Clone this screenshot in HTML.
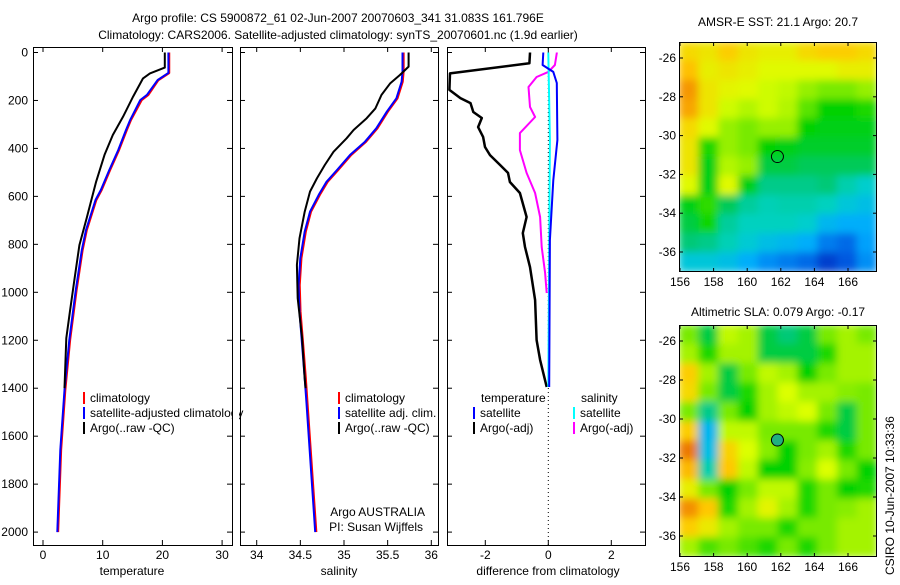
<!DOCTYPE html>
<html><head><meta charset="utf-8"><style>
body{margin:0;background:#fff;}
svg text{font-family:"Liberation Sans",sans-serif;font-size:12px;fill:#000;}
</style></head><body>
<svg id="s" width="900" height="580" viewBox="0 0 900 580">
<defs>
<filter id="bl" x="0" y="0" width="100%" height="100%"><feGaussianBlur stdDeviation="4" edgeMode="duplicate"/></filter>
<clipPath id="c1"><rect x="679" y="42" width="198" height="230"/></clipPath>
<clipPath id="c2"><rect x="679" y="325" width="198" height="232"/></clipPath>
</defs>
<text x="338" y="22" text-anchor="middle">Argo profile: CS 5900872_61 02-Jun-2007 20070603_341 31.083S 161.796E</text>
<text x="338" y="39" text-anchor="middle">Climatology: CARS2006. Satellite-adjusted climatology: synTS_20070601.nc (1.9d earlier)</text>
<text x="778" y="26" text-anchor="middle">AMSR-E SST: 21.1 Argo: 20.7</text>
<text x="778" y="316" text-anchor="middle">Altimetric SLA: 0.079 Argo: -0.17</text>
<text x="0" y="0" transform="translate(894,575) rotate(-90)">CSIRO 10-Jun-2007 10:33:36</text>
<g id="g"></g>
</svg>
<script>
// ---- data ----
const depthTicks=[0,200,400,600,800,1000,1200,1400,1600,1800,2000];
const tempTicks=[0,10,20,30];
const salTicks=[34,34.5,35,35.5,36];
const salTickLabels=["34","34.5","35","35.5","36"];
const diffTicks=[-2,0,2];
const climTDepth=[0,85,115,177,198,281,323,407,490,573,615,740,824,990,1199,1407,1658,2000];
const climTemp=[21.1,21.1,19.3,17.6,16.5,14.7,14.0,12.7,11.2,9.8,8.9,7.3,6.6,5.6,4.5,3.7,3.0,2.5];
const satTemp=[21.0,21.0,19.2,17.4,16.3,14.6,13.9,12.6,11.1,9.7,8.8,7.2,6.5,5.5,4.4,3.6,2.9,2.4];
const argoTDepth=[0,63,87,108,184,268,344,427,539,692,803,942,1081,1191,1400];
const argoTemp=[20.4,20.4,17.9,16.75,15.1,13.4,11.7,10.3,8.9,7.3,6.1,5.3,4.5,3.9,3.6];
const climSDepth=[0,10,80,122,191,247,316,372,427,490,539,594,664,747,858,970,1081,1220,1359,1463,2000];
const climSal=[35.68,35.68,35.68,35.67,35.61,35.50,35.38,35.25,35.08,34.93,34.81,34.72,34.62,34.56,34.51,34.49,34.50,34.53,34.56,34.58,34.68];
const satSal=[35.67,35.67,35.67,35.66,35.60,35.49,35.37,35.24,35.07,34.92,34.80,34.71,34.61,34.55,34.50,34.48,34.49,34.52,34.55,34.57,34.67];
const argoSDepth=[0,59,94,128,177,233,274,323,358,414,469,525,580,664,775,886,1025,1192,1359,1400];
const argoSal=[35.74,35.74,35.64,35.53,35.43,35.36,35.26,35.11,35.03,34.88,34.78,34.69,34.61,34.55,34.49,34.46,34.47,34.52,34.55,34.56];
const dTADepth=[0,2,45,87,156,190,211,248,273,311,352,394,428,469,502,540,586,686,753,811,895,1032,1199,1282,1395];
const dTempArgo=[-0.58,-0.58,-0.60,-3.12,-3.14,-2.79,-2.47,-2.38,-2.11,-2.23,-2.07,-2.01,-1.85,-1.53,-1.28,-1.22,-0.90,-0.69,-0.81,-0.74,-0.58,-0.42,-0.37,-0.26,-0.05];
const dSADepth=[0,2,52,81,102,144,227,269,336,407,502,586,686,811,919,1003];
const dSalArgo=[0.27,0.27,0.21,0,-0.37,-0.63,-0.58,-0.42,-0.90,-0.90,-0.69,-0.42,-0.26,-0.21,-0.10,-0.05];
const dTSDepth=[0,52,81,127,365,532,782,1395];
const dTempSat=[-0.16,-0.18,0.16,0.27,0.29,0.16,0.05,0.03];
const dSSDepth=[0,365,1395];
const dSalSat=[0,0.05,0];
const lonTicks=[156,158,160,162,164,166];
const latTicks=[-26,-28,-30,-32,-34,-36];
const sstGrid=[
[.72,.70,.74,.70,.68,.68,.72,.74,.74,.72],
[.76,.68,.70,.68,.66,.66,.66,.66,.68,.68],
[.82,.70,.67,.66,.64,.63,.60,.58,.58,.60],
[.80,.70,.64,.62,.64,.62,.56,.50,.50,.52],
[.72,.66,.60,.58,.60,.60,.50,.49,.49,.49],
[.70,.52,.60,.58,.50,.49,.48,.48,.48,.48],
[.70,.49,.62,.60,.47,.47,.46,.46,.46,.46],
[.66,.49,.66,.49,.42,.42,.42,.44,.38,.34],
[.49,.53,.46,.40,.37,.38,.38,.36,.32,.30],
[.47,.51,.40,.36,.36,.36,.34,.28,.26,.26],
[.44,.42,.37,.33,.30,.28,.26,.20,.18,.24],
[.32,.32,.30,.26,.22,.20,.18,.12,.16,.22]];
const slaGrid=[
[.58,.47,.63,.61,.47,.44,.47,.58,.61,.58],
[.61,.52,.61,.61,.47,.47,.47,.52,.61,.61],
[.74,.61,.47,.58,.63,.61,.50,.58,.61,.61],
[.72,.58,.47,.52,.61,.65,.61,.61,.59,.58],
[.58,.42,.58,.50,.61,.63,.65,.58,.47,.58],
[.74,.28,.63,.63,.58,.58,.58,.52,.47,.58],
[.86,.30,.73,.65,.59,.50,.58,.61,.52,.58],
[.77,.38,.75,.63,.50,.50,.59,.65,.58,.50],
[.68,.58,.50,.58,.63,.63,.52,.58,.50,.52],
[.83,.75,.52,.61,.67,.61,.52,.58,.59,.61],
[.74,.69,.61,.58,.58,.52,.58,.58,.61,.61],
[.61,.55,.58,.55,.52,.58,.52,.58,.61,.61]];
const argoLon=161.8, argoLat=-31.08;
// ---- drawing ----
const NS='http://www.w3.org/2000/svg';const G=document.getElementById('g');
function mk(t,a,p){const e=document.createElementNS(NS,t);for(const k in a)e.setAttribute(k,a[k]);(p||G).appendChild(e);return e;}
const yD=d=>52.5+d*0.2398;
const xT=v=>43+v*5.97, xS=v=>256.7+(v-34)*87.3, xDf=v=>548.3+v*31.5;
function line(xs,ds,fx,col,name,w){const pts=xs.map((v,i)=>fx(v).toFixed(1)+','+yD(ds[i]).toFixed(1)).join(' ');
 const e=mk('polyline',{points:pts,fill:'none',stroke:col,'stroke-width':w||2,'stroke-linejoin':'round'});
 
 }
function frame(x,y,w,h,name){const e=mk('rect',{x:x,y:y,width:w,height:h,fill:'none',stroke:'#000','stroke-width':1});
 
 }
function txt(x,y,s,anc,name){const e=mk('text',{x:x,y:y,'text-anchor':anc||'start'});e.textContent=s;
 
 return e;}
function xticks(ticks,labels,fx,top,bot,name){ticks.forEach((t,i)=>{const x=fx(t);
 mk('line',{x1:x,x2:x,y1:bot,y2:bot-5,stroke:'#000'});mk('line',{x1:x,x2:x,y1:top,y2:top+5,stroke:'#000'});
 txt(x,bot+14,labels[i],'middle',name);});}
const panels=[[33,232],[240,438],[447,645]];
panels.forEach((p,i)=>{frame(p[0]+0.5,47.5,p[1]-p[0],498,'profile-panel-'+(i+1));
 depthTicks.forEach(d=>{const y=yD(d);mk('line',{x1:p[0],x2:p[0]+5,y1:y,y2:y,stroke:'#000'});mk('line',{x1:p[1],x2:p[1]-5,y1:y,y2:y,stroke:'#000'});});});
depthTicks.forEach(d=>txt(28,yD(d)+4,String(d),'end','depth-tick-label'));
xticks(tempTicks,tempTicks.map(String),xT,47,545,'temperature-tick-label');
xticks(salTicks,salTickLabels,xS,47,545,'salinity-tick-label');
xticks(diffTicks,diffTicks.map(String),xDf,47,545,'diff-tick-label');
txt(132,575,'temperature','middle','x-axis-title-temperature');
txt(339,575,'salinity','middle','x-axis-title-salinity');
txt(548,575,'difference from climatology','middle','x-axis-title-difference');
line(climTemp,climTDepth,xT,'#f00','temp-climatology-line',2.5);
line(satTemp,climTDepth,xT,'#00f','temp-satellite-line');
line(argoTemp,argoTDepth,xT,'#000','temp-argo-line');
line(climSal,climSDepth,xS,'#f00','sal-climatology-line',2.5);
line(satSal,climSDepth,xS,'#00f','sal-satellite-line');
line(argoSal,argoSDepth,xS,'#000','sal-argo-line');
const dz=mk('line',{x1:548.3,x2:548.3,y1:48,y2:545,stroke:'#000','stroke-dasharray':'1,3'});


line(dTempArgo,dTADepth,xDf,'#000','diff-temp-argo-line',2.5);
line(dSalArgo,dSADepth,xDf,'#f0f','diff-sal-argo-line');
line(dSalSat,dSSDepth,xDf,'#0ff','diff-sal-satellite-line');
line(dTempSat,dTSDepth,xDf,'#00f','diff-temp-satellite-line');
function leg(x,y,col,label,name){const e=mk('rect',{x:x,y:y-10,width:2,height:12,fill:col});
 
 
 txt(x+7,y,label,'start',name);}
leg(83,402,'#f00','climatology','legend-climatology');
leg(83,417,'#00f','satellite-adjusted climatology','legend-satellite-adjusted');
leg(83,432,'#000','Argo(..raw -QC)','legend-argo');
leg(338,402,'#f00','climatology','legend2-climatology');
leg(338,417,'#00f','satellite adj. clim.','legend2-satellite');
leg(338,432,'#000','Argo(..raw -QC)','legend2-argo');
mk('rect',{x:233,y:390,width:6,height:50,fill:'#fff'});
txt(481,402,'temperature','start','legend3-temperature-heading');
txt(581,402,'salinity','start','legend3-salinity-heading');
leg(473,417,'#00f','satellite','legend3-temp-satellite');
leg(473,432,'#000','Argo(-adj)','legend3-temp-argo');
leg(573,417,'#0ff','satellite','legend3-sal-satellite');
leg(573,432,'#f0f','Argo(-adj)','legend3-sal-argo');
txt(425,516,'Argo AUSTRALIA','end','agency-label');
txt(423,531,'PI: Susan Wijffels','end','pi-label');
const cmS=[0,.15,.25,.35,.45,.5,.6,.65,.75,.85,.95,1];
const cmC=[[0,0,150],[0,80,220],[0,170,255],[0,210,200],[0,200,110],[0,210,0],[150,240,0],[220,255,0],[255,200,0],[240,130,0],[200,40,0],[140,0,0]];
function cmap(v){v=Math.max(0,Math.min(1,v));let i=0;while(i<cmS.length-2&&v>cmS[i+1])i++;
 const t=(v-cmS[i])/(cmS[i+1]-cmS[i]);const a=cmC[i],b=cmC[i+1];
 return 'rgb('+a.map((c,k)=>Math.round(c+(b[k]-c)*t)).join(',')+')';}
function map(grid,x0,y0,w,h,clip,name,yLat,fill){
 const gg=mk('g',{'clip-path':'url(#'+clip+')'});const g2=mk('g',{filter:'url(#bl)'},gg);
 const rows=grid.length,cols=grid[0].length,cw=w/cols,ch=h/rows;
 grid.forEach((r,i)=>r.forEach((v,j)=>{const e=mk('rect',{x:x0+j*cw-0.5,y:y0+i*ch-0.5,width:cw+1,height:ch+1,fill:cmap(v)},g2);
  
  }));
 frame(x0+0.5,y0+0.5,w-1,h-1,name+'-frame');
 const xL=l=>680+(l-156)*16.8;
 lonTicks.forEach(l=>{const x=xL(l);mk('line',{x1:x,x2:x,y1:y0+h,y2:y0+h-4,stroke:'#000'});mk('line',{x1:x,x2:x,y1:y0,y2:y0+4,stroke:'#000'});txt(x,y0+h+14,String(l),'middle',name+'-lon-label');});
 latTicks.forEach(l=>{const y=yLat(l);mk('line',{x1:x0,x2:x0+4,y1:y,y2:y,stroke:'#000'});mk('line',{x1:x0+w,x2:x0+w-4,y1:y,y2:y,stroke:'#000'});txt(x0-3,y+4,String(l),'end',name+'-lat-label');});
 const c=mk('circle',{cx:xL(argoLon),cy:yLat(argoLat),r:6,fill:fill,stroke:'#000','stroke-width':1});
 
 }
map(sstGrid,679,42,198,230,'c1','sst-map',l=>58+(-26-l)*19.4,'none');
map(slaGrid,679,325,198,232,'c2','sla-map',l=>341+(-26-l)*19.5,'#20b080');
</script>
</body></html>
